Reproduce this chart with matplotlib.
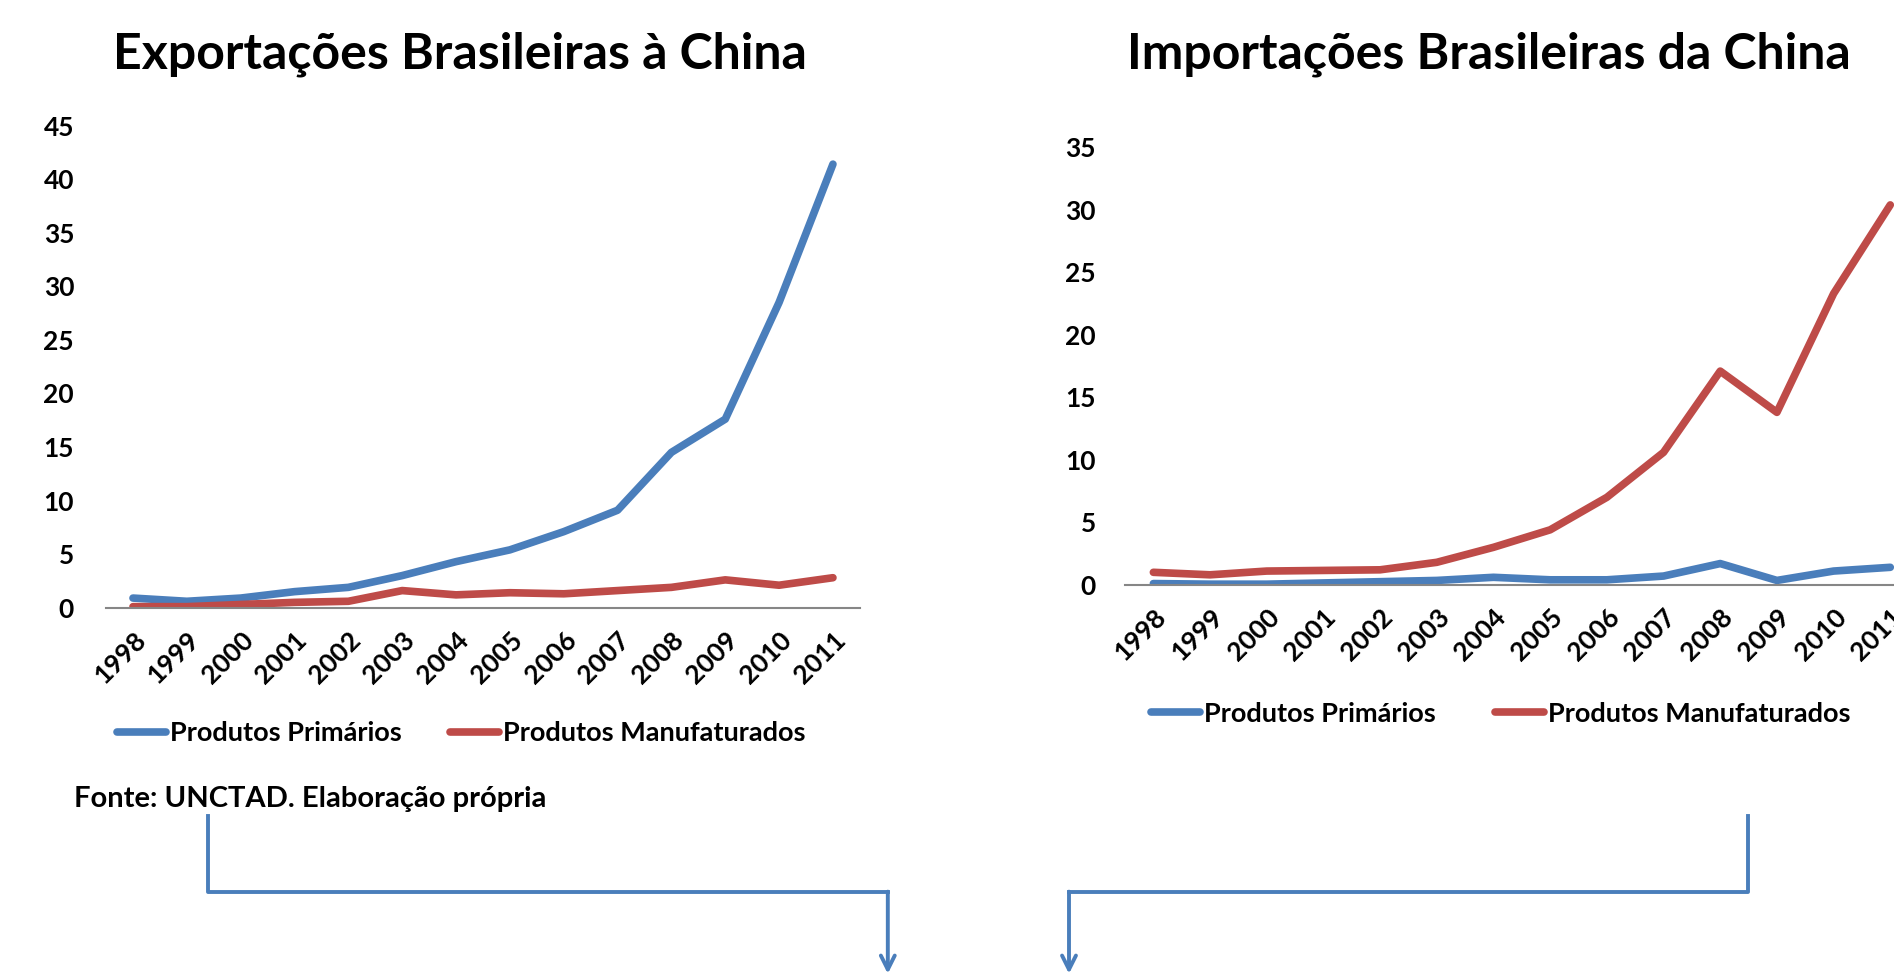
import matplotlib
matplotlib.use("Agg")
import matplotlib.pyplot as plt
from matplotlib.lines import Line2D
from matplotlib.patches import FancyArrowPatch

plt.rcParams['font.family'] = ['Lato', 'DejaVu Sans']
plt.rcParams['font.weight'] = 'bold'

years = ['1998', '1999', '2000', '2001', '2002', '2003', '2004',
         '2005', '2006', '2007', '2008', '2009', '2010', '2011']

# Exportacoes (bilhoes US$)
exp_primarios = [0.9, 0.6, 0.9, 1.5, 1.9, 3.0, 4.3, 5.4, 7.1, 9.1, 14.5, 17.6, 28.5, 41.4]
exp_manufat = [0.1, 0.1, 0.3, 0.5, 0.6, 1.6, 1.2, 1.4, 1.3, 1.6, 1.9, 2.6, 2.1, 2.8]

# Importacoes
imp_primarios = [0.1, 0.05, 0.05, 0.15, 0.25, 0.35, 0.6, 0.4, 0.4, 0.7, 1.7, 0.35, 1.1, 1.4]
imp_manufat = [1.0, 0.8, 1.1, 1.15, 1.2, 1.8, 3.0, 4.4, 7.0, 10.6, 17.1, 13.8, 23.3, 30.4]

legend_labels = ['Produtos Primários', 'Produtos Manufaturados']

blue = '#4a7ebb'
red = '#be4b48'

fig = plt.figure(figsize=(18.94, 9.75), dpi=100)


def draw(ax, prim, manuf, ymax, ypad):
    x = range(len(years))
    l1, = ax.plot(x, prim, color=blue, lw=5.5, solid_capstyle='round', solid_joinstyle='round')
    l2, = ax.plot(x, manuf, color=red, lw=5.5, solid_capstyle='round', solid_joinstyle='round')
    ax.set_xlim(-0.5, len(years) - 0.5)
    ax.set_ylim(0, ymax)
    ax.set_yticks(range(0, ymax + 1, 5))
    ax.set_xticks(list(x))
    ax.set_xticklabels(years, rotation=45, ha='right', va='top', rotation_mode='anchor')
    for s in ['top', 'right', 'left']:
        ax.spines[s].set_visible(False)
    ax.spines['bottom'].set_color('#868686')
    ax.spines['bottom'].set_linewidth(1.5)
    ax.tick_params(axis='both', length=0, labelsize=19)
    ax.tick_params(axis='y', pad=ypad)
    ax.tick_params(axis='x', pad=14)
    ax.patch.set_alpha(0)
    return l1, l2


ax1 = fig.add_axes([0.056, 0.3767, 0.398, 0.4945])
h1 = draw(ax1, exp_primarios, exp_manufat, 45, 23)
ax1.legend(h1, legend_labels, loc='center left',
           bbox_to_anchor=(-0.018, -0.26), ncol=2, frameon=False, fontsize=19.5,
           handlelength=1.8, columnspacing=1.8, handletextpad=0.15)

ax2 = fig.add_axes([0.594, 0.4002, 0.419, 0.4486])
h2 = draw(ax2, imp_primarios, imp_manufat, 35, 21)
ax2.legend(h2, legend_labels, loc='center left',
           bbox_to_anchor=(0.002, -0.295), ncol=2, frameon=False, fontsize=19.5,
           handlelength=1.8, columnspacing=2.2, handletextpad=0.15)

fig.text(0.243, 0.944, 'Exportações Brasileiras à China', fontsize=36, fontweight='bold',
         ha='center', va='center')
fig.text(0.786, 0.944, 'Importações Brasileiras da China', fontsize=36, fontweight='bold',
         ha='center', va='center')

fig.text(0.039, 0.181, 'Fonte: UNCTAD. Elaboração própria', fontsize=21, fontweight='bold',
         va='center', ha='left')

# connector arrows (figure coordinates)
W, H = 1568.0, 807.0


def fx(px):
    return px / W


def fy(py):
    return 1 - py / H


lw = 2.8
fig.add_artist(Line2D([fx(172), fx(172), fx(735)], [fy(675), fy(738), fy(738)],
                      color=blue, lw=lw, transform=fig.transFigure))
fig.add_artist(Line2D([fx(1447), fx(1447), fx(885)], [fy(675), fy(738), fy(738)],
                      color=blue, lw=lw, transform=fig.transFigure))
for xx in [735, 885]:
    fig.add_artist(FancyArrowPatch((fx(xx), fy(738)), (fx(xx), fy(806)),
                                   transform=fig.transFigure, arrowstyle='->,head_length=10,head_width=5',
                                   color=blue, lw=lw, mutation_scale=1, shrinkA=0, shrinkB=0))

fig.savefig('out.png', dpi=100)
